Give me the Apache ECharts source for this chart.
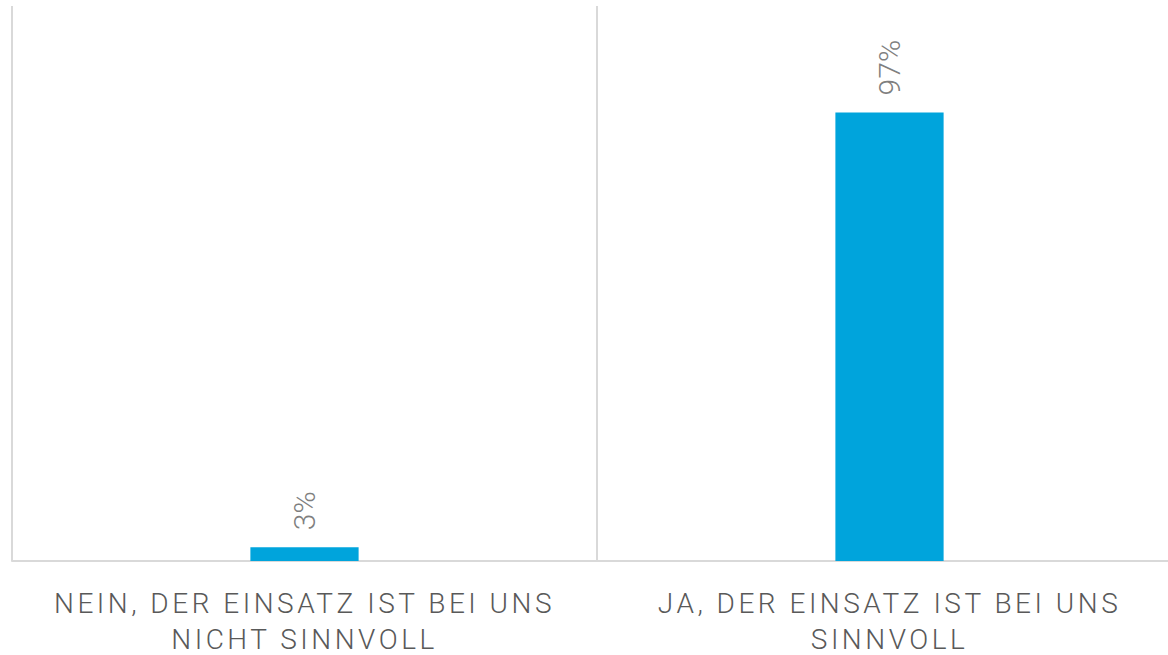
<!DOCTYPE html>
<html>
<head>
<meta charset="utf-8">
<script src="https://cdn.jsdelivr.net/npm/echarts@6/dist/echarts.min.js"></script>
<style>
  html, body { margin: 0; padding: 0; background: #fff; }
  #chart { width: 1168px; height: 655px; }
  /* category labels are letter-spaced in the original */
  #chart text[fill="#595959"] { letter-spacing: 3.5px; }
</style>
</head>
<body>
<div id="chart"></div>
<script>
const categories = [
  "NEIN, DER EINSATZ IST BEI UNS\nNICHT SINNVOLL",
  "JA, DER EINSATZ IST BEI UNS\nSINNVOLL"
];
const values = [3, 97];

const fontFamily = "Roboto, 'Liberation Sans', sans-serif";

const chart = echarts.init(document.getElementById("chart"), null, { renderer: "svg" });

chart.setOption({
  animation: false,
  backgroundColor: "#fff",
  grid: { left: 12, top: 6, right: -14, bottom: 94, outerBoundsMode: "none", containLabel: false },
  xAxis: {
    type: "category",
    data: categories,
    axisTick: { show: false },
    axisLine: { lineStyle: { color: "#d9d9d9", width: 2 } },
    splitLine: { show: true, lineStyle: { color: "#d9d9d9", width: 2 } },
    axisLabel: {
      color: "#595959",
      fontFamily: fontFamily,
      fontWeight: 300,
      fontSize: 28,
      lineHeight: 36,
      margin: 24,
      interval: 0
    }
  },
  yAxis: {
    type: "value",
    min: 0,
    max: 120,
    show: false,
    splitLine: { show: false }
  },
  series: [
    {
      type: "bar",
      data: values,
      barWidth: "18.5%",
      itemStyle: { color: "#00A4DC" },
      label: {
        show: true,
        position: "top",
        distance: 17,
        rotate: 90,
        align: "left",
        verticalAlign: "middle",
        formatter: "{c}%",
        color: "#7f7f7f",
        fontFamily: fontFamily,
        fontWeight: 300,
        fontSize: 30
      }
    }
  ]
});
</script>
</body>
</html>
